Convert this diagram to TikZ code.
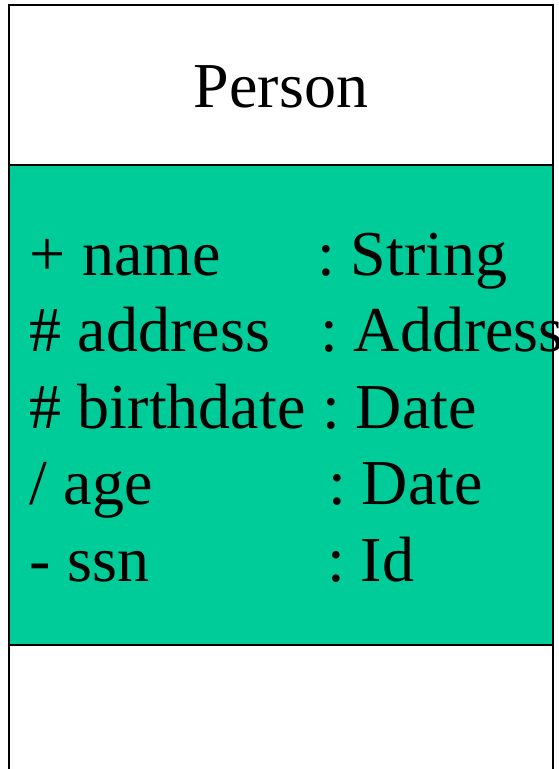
\documentclass[tikz,border=0pt]{standalone}
\usepackage{fontspec}
\setmainfont{Liberation Serif}
\frenchspacing
\definecolor{attrgreen}{RGB}{0,204,153}
\begin{document}
\begin{tikzpicture}[x=1pt,y=-1pt,
  boxline/.style={draw=black,line width=2.5pt},
  txt/.style={inner sep=0pt,outer sep=0pt,anchor=base west,font=\fontsize{64}{77}\selectfont},
  title/.style={inner sep=0pt,outer sep=0pt,anchor=base,font=\fontsize{64}{77}\selectfont}]
\useasboundingbox (0,0) rectangle (558,769);
% attribute compartment
\fill[attrgreen] (9,165) rectangle (553,645);
% outline
\coordinate (tl) at (9,5);
\coordinate (tr) at (553,5);
\coordinate (bl) at (9,790);
\coordinate (br) at (553,790);
\draw[boxline] (bl) -- (tl) -- (tr) -- (br);
\draw[boxline] (9,165) -- (553,165);
\draw[boxline] (9,645) -- (553,645);
% title
\node[title] (person) at (281,107) {Person};
% attributes
\node[txt] (n1) at (30,275) {+ name};
\node[txt] (t1) at (317,275) {: String};
\node[txt] (n2) at (30,351.5) {\# address};
\node[txt] (t2) at (320,351.5) {: Address};
\node[txt] (n3) at (30,428) {\# birthdate};
\node[txt] (t3) at (322,428) {: Date};
\node[txt] (n4) at (30,504.5) {/ age};
\node[txt] (t4) at (328,504.5) {: Date};
\node[txt] (n5) at (30,581) {- ssn};
\node[txt] (t5) at (327,581) {: Id};
\end{tikzpicture}
\end{document}
